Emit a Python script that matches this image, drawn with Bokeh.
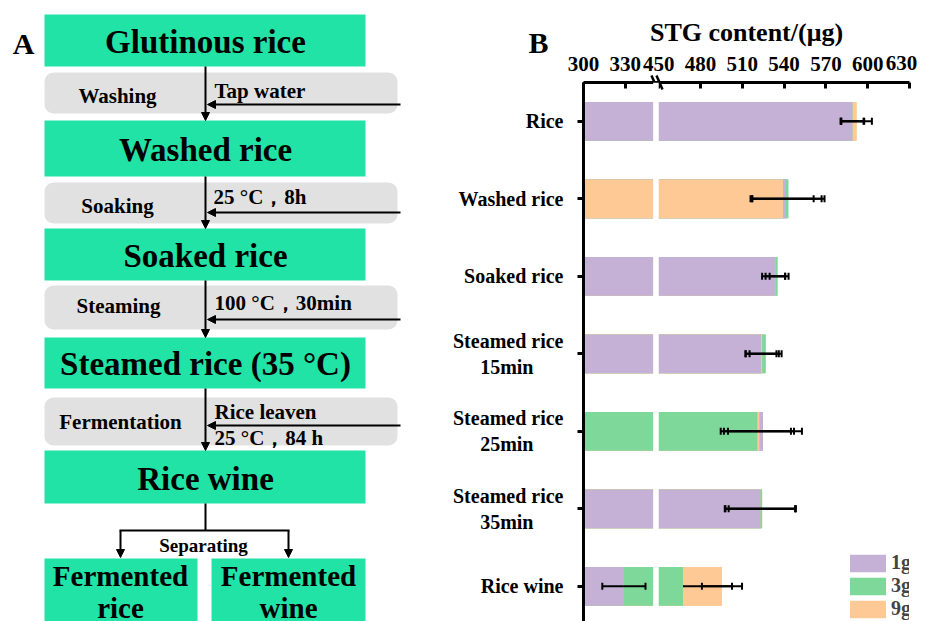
from bokeh.plotting import figure
from bokeh.models import (Range1d, FixedTicker, Arrow, NormalHead,
                          Legend, LegendItem, BoxAnnotation)
from bokeh.layouts import row
from bokeh.embed import file_html
from bokeh.resources import INLINE
from bokeh.core.properties import value

# ---------------- data (panel B) ----------------
categories = ["Rice", "Washed rice", "Soaked rice", "Steamed rice\n15min",
              "Steamed rice\n25min", "Steamed rice\n35min", "Rice wine"]
series_names = ["1g", "3g", "9g"]
g1 = [589.0, 541.4, 533.7, 523.5, 524.8, 522.9, 329.0]
g3 = [589.0, 543.0, 535.2, 526.7, 520.8, 524.2, 467.4]
g9 = [592.0, 539.2, 533.7, 524.2, 522.3, 522.9, 495.4]
err1 = [8.5, 25.5, 7.0, 11.0, 28.0, 25.0, 15.5]
err3 = [8.0, 26.0, 5.6, 11.5, 26.3, 24.0, 35.2]
err9 = [11.0, 22.0, 9.5, 12.0, 22.6, 25.5, 14.4]
tick_values = [300, 330, 450, 480, 510, 540, 570, 600, 630]
BREAK_LO, BREAK_HI = 350, 450   # axis break
GAP = 4                          # display width of the break

colors = ["#C5B1D5", "#7DD89A", "#FEC994"]
GREEN = "#22E3A6"
GRAY = "#E1E1E1"
SERIF = "Liberation Serif"


def disp(v):
    return v if v <= BREAK_LO else v - BREAK_HI + BREAK_LO + GAP


def in_break(v):
    return BREAK_LO < v < BREAK_HI


def centered(label, pad=3):
    # two-line tick labels: pad the short second line so it sits centred under the first
    parts = label.split("\n")
    if len(parts) == 2:
        return parts[0] + "\n" + parts[1] + "\u2002" * pad
    return label


W, H = 926, 621
SPLIT = 430

# ---------------- panel A (flow chart, full-page canvas underneath panel B) ----------------
pA = figure(width=W, height=H, x_range=Range1d(0, W), y_range=Range1d(H, 0),
            output_backend="svg", toolbar_location=None, x_axis_location=None,
            y_axis_location=None, min_border=0, outline_line_color=None)
pA.grid.visible = False
pA.frame_align = False

gb_l = [44, 44, 44, 44, 44, 44, 211]
gb_r = [365, 365, 365, 365, 365, 197, 365]
gb_t = [14, 120, 228, 337, 450, 558, 558]
gb_b = [66, 176, 280, 388, 503, 660, 660]
pA.quad(left=gb_l, right=gb_r, top=gb_t, bottom=gb_b, fill_color=GREEN, line_color=None)

gr_t = [72, 182, 285, 397]
gr_b = [113, 223, 329, 445]
pA.quad(left=[44] * 4, right=[397] * 4, top=gr_t, bottom=gr_b, fill_color=GRAY,
        line_color=None, border_radius=9)


def txt(p, xs, ys, texts, size, align="center"):
    p.text(x=xs, y=ys, text=texts, text_font=value(SERIF), text_font_style="bold",
           text_font_size=size, text_align=align, text_baseline="middle", text_color="black")


txt(pA, [205] * 5, [41, 149, 255, 363, 478],
    ["Glutinous rice", "Washed rice", "Soaked rice", "Steamed rice (35 °C)", "Rice wine"], "33px")
txt(pA, [120, 120, 288, 288], [575, 607, 575, 607], ["Fermented", "rice", "Fermented", "wine"], "29px")
txt(pA, [117, 117, 118, 120], [95, 205, 305, 421], ["Washing", "Soaking", "Steaming", "Fermentation"], "21px")
txt(pA, [214, 213, 214, 214, 214], [90, 196, 302, 411, 437],
    ["Tap water", "25 °C，8h", "100 °C，30min", "Rice leaven", "25 °C，84 h"], "21px", "left")
txt(pA, [203], [545], ["Separating"], "19px")
txt(pA, [23, 538], [43, 42], ["A", "B"], "30px")
# last x tick label of panel B sits pulled-in from the axis end, as in the original
txt(pA, [901], [62], [str(tick_values[-1])], "21px")

arrows = [(205, 66, 205, 120), (205, 176, 205, 228), (205, 280, 205, 337), (205, 388, 205, 450),
          (400, 104, 207, 104), (400, 212, 207, 212), (400, 319, 207, 319), (400, 425, 207, 425),
          (120, 530, 120, 557), (288, 530, 288, 557)]
for xs, ys, xe, ye in arrows:
    pA.add_layout(Arrow(end=NormalHead(size=8, fill_color="black", line_color="black", line_width=1),
                        x_start=xs, y_start=ys, x_end=xe, y_end=ye, line_width=2, line_color="black"))
pA.segment(x0=[205, 119], y0=[503, 530], x1=[205, 289], y1=[530, 530], line_width=2, line_color="black")
# axis-break mark on panel B's top axis
pA.segment(x0=[651, 656], y0=[75, 75], x1=[657, 662], y1=[89, 89], line_width=2.5, line_color="black")

# ---------------- panel B (bar chart, transparent, overlaid) ----------------
n = len(categories)
FRAME_L, FRAME_R, FRAME_T = 583, 909, 82
CAT_PX = 77.5
x_lo, x_hi = disp(tick_values[0]), disp(tick_values[-1])
y_bottom = -0.5 + (H - FRAME_T) / CAT_PX
pB = figure(width=W - SPLIT, height=H, x_range=Range1d(x_lo, x_hi), y_range=Range1d(y_bottom, -0.5),
            x_axis_location="above", output_backend="svg", toolbar_location=None,
            min_border_left=FRAME_L - SPLIT, min_border_right=W - FRAME_R, min_border_top=FRAME_T,
            min_border_bottom=0, outline_line_color=None,
            border_fill_color=None, background_fill_color=None)
pB.grid.visible = False
pB.frame_align = False
pB.margin = (0, 0, 0, -(W - SPLIT))

vals = [g1, g3, g9]
errs = [err1, err3, err9]
ys = list(range(n))

# per-series bars (for legend; fully covered by the ordered layers below)
legend_items = []
for name, v, c in zip(series_names, vals, colors):
    r = pB.hbar(y=ys, left=x_lo, right=[disp(a) for a in v], height=0.5, fill_color=c, line_color=None)
    legend_items.append(LegendItem(label=name, renderers=[r]))

# overlapped bars: longest in back, shortest in front
for rank in range(3):
    rights, cols = [], []
    for i in range(n):
        order = sorted(range(3), key=lambda k: (-vals[k][i], -k))
        k = order[rank]
        rights.append(disp(vals[k][i]))
        cols.append(colors[k])
    pB.hbar(y=ys, left=x_lo, right=rights, height=0.5, fill_color=cols, line_color=None)

pB.add_layout(BoxAnnotation(left=disp(BREAK_LO), right=disp(BREAK_HI), fill_color="white",
                            fill_alpha=1, line_alpha=0))

# error bars (halves ending inside the break are not drawn)
lx0, lx1, ly, cx, cy = [], [], [], [], []
for v, e in zip(vals, errs):
    for i in range(n):
        c = v[i]
        for end in (c - e[i], c + e[i]):
            if in_break(end) or in_break(c):
                continue
            lx0.append(disp(c)); lx1.append(disp(end)); ly.append(i)
            cx.append(disp(end)); cy.append(i)
pB.segment(x0=lx0, x1=lx1, y0=ly, y1=ly, line_width=2, line_color="black")
pB.segment(x0=cx, x1=cx, y0=[y - 0.045 for y in cy], y1=[y + 0.045 for y in cy],
           line_width=2, line_color="black")

# axes
pB.xaxis.ticker = FixedTicker(ticks=[disp(t) for t in tick_values])
ov = {disp(t): str(t) for t in tick_values}
ov[disp(tick_values[-1])] = ""
pB.xaxis.major_label_overrides = ov
pB.xaxis.axis_label = "STG content/(μg)"
pB.xaxis.axis_label_text_font = SERIF
pB.xaxis.axis_label_text_font_style = "bold"
pB.xaxis.axis_label_text_font_size = "26px"
pB.xaxis.axis_label_text_color = "black"
pB.xaxis.axis_label_standoff = 7
pB.xaxis.major_tick_in = 6
pB.xaxis.major_tick_out = 0
pB.xaxis.major_label_standoff = 12
pB.yaxis.ticker = FixedTicker(ticks=ys)
pB.yaxis.major_label_overrides = {i: centered(c) for i, c in enumerate(categories)}
pB.yaxis.major_tick_in = 0
pB.yaxis.major_tick_out = 6
pB.yaxis.major_label_standoff = 14
for ax in (pB.xaxis, pB.yaxis):
    ax.axis_line_width = 3
    ax.major_tick_line_width = 3
    ax.minor_tick_line_color = None
    ax.major_label_text_font = SERIF
    ax.major_label_text_font_style = "bold"
    ax.major_label_text_color = "black"
pB.xaxis.major_label_text_font_size = "21px"
pB.yaxis.major_label_text_font_size = "20px"

legend = Legend(items=legend_items, location=(262, 1), glyph_width=45, glyph_height=22,
                spacing=-2, padding=0, margin=0, label_standoff=1, border_line_color=None,
                background_fill_alpha=0, label_text_font=SERIF, label_text_font_style="bold",
                label_text_font_size="20px", label_height=20)
pB.add_layout(legend)

layout = row(pA, pB)
open("out.html", "w").write(file_html(layout, INLINE))
